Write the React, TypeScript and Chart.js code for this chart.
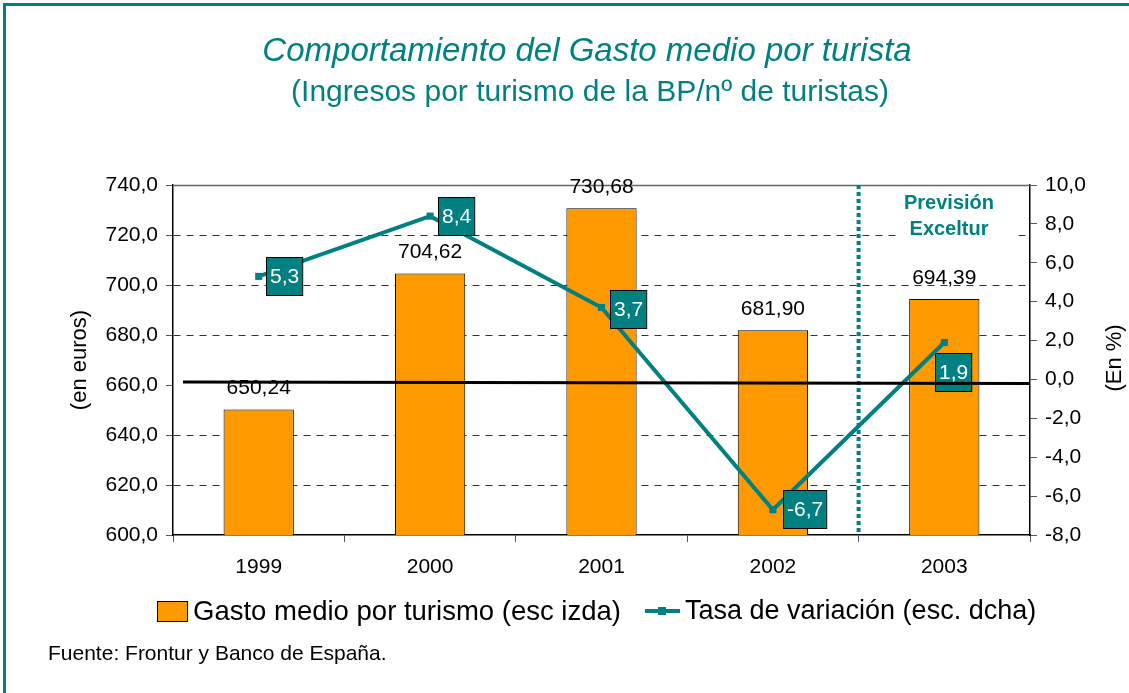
import React, { useEffect, useRef } from "react";
import { Chart, registerables } from "chart.js";

Chart.register(...registerables);

const categories = ["1999", "2000", "2001", "2002", "2003"];
const gastoMedio = [650.24, 704.62, 730.68, 681.9, 694.39];
const tasaVariacion = [5.3, 8.4, 3.7, -6.7, 1.9];
const gastoLabels = ["650,24", "704,62", "730,68", "681,90", "694,39"];
const tasaLabels = ["5,3", "8,4", "3,7", "-6,7", "1,9"];

const TEAL = "#008080";
const ORANGE = "#FF9900";
const FONT = "'Liberation Sans', Arial, Helvetica, sans-serif";
const W = 1129;
const H = 693;
const LABEL_DX = [7, 8, 8, 10, -9];
const LABEL_DY = [0, 0, 1, -1, 29];

const fmt = (v: number) => v.toFixed(1).replace(".", ",");

const decorPlugin = {
  id: "decor",
  beforeDraw(chart: any) {
    const ctx = chart.ctx;
    ctx.save();
    ctx.fillStyle = "#fff";
    ctx.fillRect(0, 0, W, H);
    // frame
    ctx.strokeStyle = TEAL;
    ctx.lineWidth = 3;
    ctx.beginPath();
    ctx.moveTo(4.5, H + 5);
    ctx.lineTo(4.5, 4.5);
    ctx.lineTo(W + 5, 4.5);
    ctx.stroke();
    // titles
    ctx.fillStyle = TEAL;
    ctx.textAlign = "center";
    ctx.textBaseline = "middle";
    ctx.font = `italic 33px ${FONT}`;
    ctx.fillText("Comportamiento del Gasto medio por turista", 587, 52);
    ctx.font = `30px ${FONT}`;
    ctx.fillText("(Ingresos por turismo de la BP/nº de turistas)", 590, 93);
    // axis titles
    ctx.fillStyle = "#000";
    ctx.font = `22px ${FONT}`;
    ctx.save();
    ctx.translate(80, 360);
    ctx.rotate(-Math.PI / 2);
    ctx.fillText("(en euros)", 0, 0);
    ctx.restore();
    ctx.save();
    ctx.translate(1115, 358);
    ctx.rotate(-Math.PI / 2);
    ctx.fillText("(En %)", 0, 0);
    ctx.restore();
    // legend
    const ly = 611;
    ctx.fillStyle = ORANGE;
    ctx.fillRect(157, 601, 30, 20);
    ctx.strokeStyle = "#000";
    ctx.lineWidth = 1;
    ctx.strokeRect(157.5, 601.5, 30, 20);
    ctx.fillStyle = "#000";
    ctx.textAlign = "left";
    ctx.font = `27.5px ${FONT}`;
    ctx.fillText("Gasto medio por turismo (esc izda)", 193, ly + 1);
    ctx.strokeStyle = TEAL;
    ctx.lineWidth = 4;
    ctx.beginPath();
    ctx.moveTo(645, ly);
    ctx.lineTo(680, ly);
    ctx.stroke();
    ctx.fillStyle = TEAL;
    ctx.fillRect(658, ly - 4, 8, 8);
    ctx.fillStyle = "#000";
    ctx.font = `27px ${FONT}`;
    ctx.fillText("Tasa de variación (esc. dcha)", 685, ly + 1);
    // source
    ctx.font = `21px ${FONT}`;
    ctx.fillText("Fuente: Frontur y Banco de España.", 48, 654);
    ctx.restore();
  },
  beforeDatasetsDraw(chart: any) {
    const ctx = chart.ctx;
    const a = chart.chartArea;
    ctx.save();
    ctx.strokeStyle = "#666";
    ctx.lineWidth = 1.5;
    ctx.beginPath();
    ctx.moveTo(a.left, a.top + 0.5);
    ctx.lineTo(a.right, a.top + 0.5);
    ctx.stroke();
    // forecast note on white background
    ctx.fillStyle = "#fff";
    ctx.fillRect(898, 188, 117, 54);
    // dotted forecast separator
    const xs = chart.scales.x;
    const sx = (xs.getPixelForValue(3) + xs.getPixelForValue(4)) / 2;
    ctx.strokeStyle = TEAL;
    ctx.lineWidth = 4;
    ctx.setLineDash([4, 3]);
    ctx.beginPath();
    ctx.moveTo(sx, a.top);
    ctx.lineTo(sx, a.bottom);
    ctx.stroke();
    ctx.setLineDash([]);
    ctx.fillStyle = TEAL;
    ctx.textAlign = "center";
    ctx.textBaseline = "middle";
    ctx.font = `bold 20px ${FONT}`;
    ctx.fillText("Previsión", 949, 203);
    ctx.fillText("Exceltur", 949, 229);
    ctx.restore();
  },
  afterDatasetsDraw(chart: any) {
    const ctx = chart.ctx;
    const a = chart.chartArea;
    ctx.save();
    // bar labels
    const barMeta = chart.getDatasetMeta(0);
    ctx.fillStyle = "#000";
    ctx.textAlign = "center";
    ctx.textBaseline = "middle";
    ctx.font = `21px ${FONT}`;
    barMeta.data.forEach((el: any, i: number) => {
      ctx.fillText(gastoLabels[i], el.x, el.y - 21);
    });
    // line labels
    const lineMeta = chart.getDatasetMeta(1);
    lineMeta.data.forEach((el: any, i: number) => {
      const t = tasaLabels[i];
      const tw = ctx.measureText(t).width;
      const bw = Math.max(36, tw + 7);
      const bh = 38;
      const bx = Math.round(el.x + LABEL_DX[i]);
      const by = Math.round(el.y + LABEL_DY[i] - bh / 2);
      ctx.fillStyle = TEAL;
      ctx.fillRect(bx, by, bw, bh);
      ctx.strokeStyle = "#000";
      ctx.lineWidth = 1;
      ctx.strokeRect(bx + 0.5, by + 0.5, bw, bh);
      ctx.fillStyle = "#fff";
      ctx.fillText(t, bx + bw / 2 + 0.5, by + bh / 2 + 1);
    });
    // zero line
    const y0 = chart.scales.y1.getPixelForValue(0);
    ctx.strokeStyle = "#000";
    ctx.lineWidth = 3;
    ctx.beginPath();
    ctx.moveTo(183, y0 + 2.5);
    ctx.lineTo(a.right, y0 + 4);
    ctx.stroke();
    ctx.restore();
  },
};

export default function App() {
  const ref = useRef<HTMLCanvasElement | null>(null);
  useEffect(() => {
    document.body.style.margin = "0";
    const canvas = ref.current!;
    const chart = new Chart(canvas, {
      type: "bar",
      data: {
        labels: categories,
        datasets: [
          {
            type: "bar",
            label: "Gasto medio por turismo (esc izda)",
            data: gastoMedio,
            backgroundColor: ORANGE,
            borderColor: "#000",
            borderWidth: 1,
            yAxisID: "y",
            categoryPercentage: 1,
            barPercentage: 0.41,
            order: 2,
          },
          {
            type: "line",
            label: "Tasa de variación (esc. dcha)",
            data: tasaVariacion,
            borderColor: TEAL,
            backgroundColor: TEAL,
            borderWidth: 4,
            pointStyle: "rect",
            pointRadius: 5,
            pointBorderWidth: 0,
            tension: 0,
            yAxisID: "y1",
            order: 1,
          },
        ] as any,
      },
      options: {
        responsive: false,
        animation: false,
        events: [],
        layout: { padding: { top: 185, left: 0, right: 0, bottom: 0 } },
        plugins: {
          legend: { display: false },
          title: { display: false },
          tooltip: { enabled: false },
        },
        scales: {
          x: {
            afterFit: (s: any) => {
              s.height = 158;
            },
            grid: {
              offset: true,
              drawOnChartArea: false,
              drawTicks: true,
              tickLength: 7,
              tickColor: "#555",
            },
            border: { color: "#000", width: 1.5 },
            ticks: {
              color: "#000",
              font: { family: FONT, size: 21 },
              padding: 13,
            },
          },
          y: {
            position: "left",
            min: 600,
            max: 740,
            afterFit: (s: any) => {
              s.width = 173;
            },
            ticks: {
              stepSize: 20,
              color: "#000",
              font: { family: FONT, size: 21 },
              padding: 8,
              callback: (v: any) => fmt(Number(v)),
            },
            grid: {
              color: (c: any) => {
                const v = c.tick ? c.tick.value : 0;
                return v > 600 && v < 740 && v !== 660 ? "#333" : "rgba(0,0,0,0)";
              },
              lineWidth: 1,
              tickLength: 7,
              tickColor: "#555",
              tickBorderDash: [],
            },
            border: { color: "#000", width: 1.5, dash: [7, 6] },
          },
          y1: {
            position: "right",
            min: -8,
            max: 10,
            afterFit: (s: any) => {
              s.width = W - 1030;
            },
            ticks: {
              stepSize: 2,
              color: "#000",
              font: { family: FONT, size: 21 },
              padding: 8,
              callback: (v: any) => fmt(Number(v)),
            },
            grid: {
              drawOnChartArea: false,
              tickLength: 7,
              tickColor: "#555",
            },
            border: { color: "#000", width: 1.5 },
          },
        },
      } as any,
      plugins: [decorPlugin],
    });
    return () => chart.destroy();
  }, []);
  return <canvas ref={ref} width={W} height={H} style={{ display: "block" }} />;
}
